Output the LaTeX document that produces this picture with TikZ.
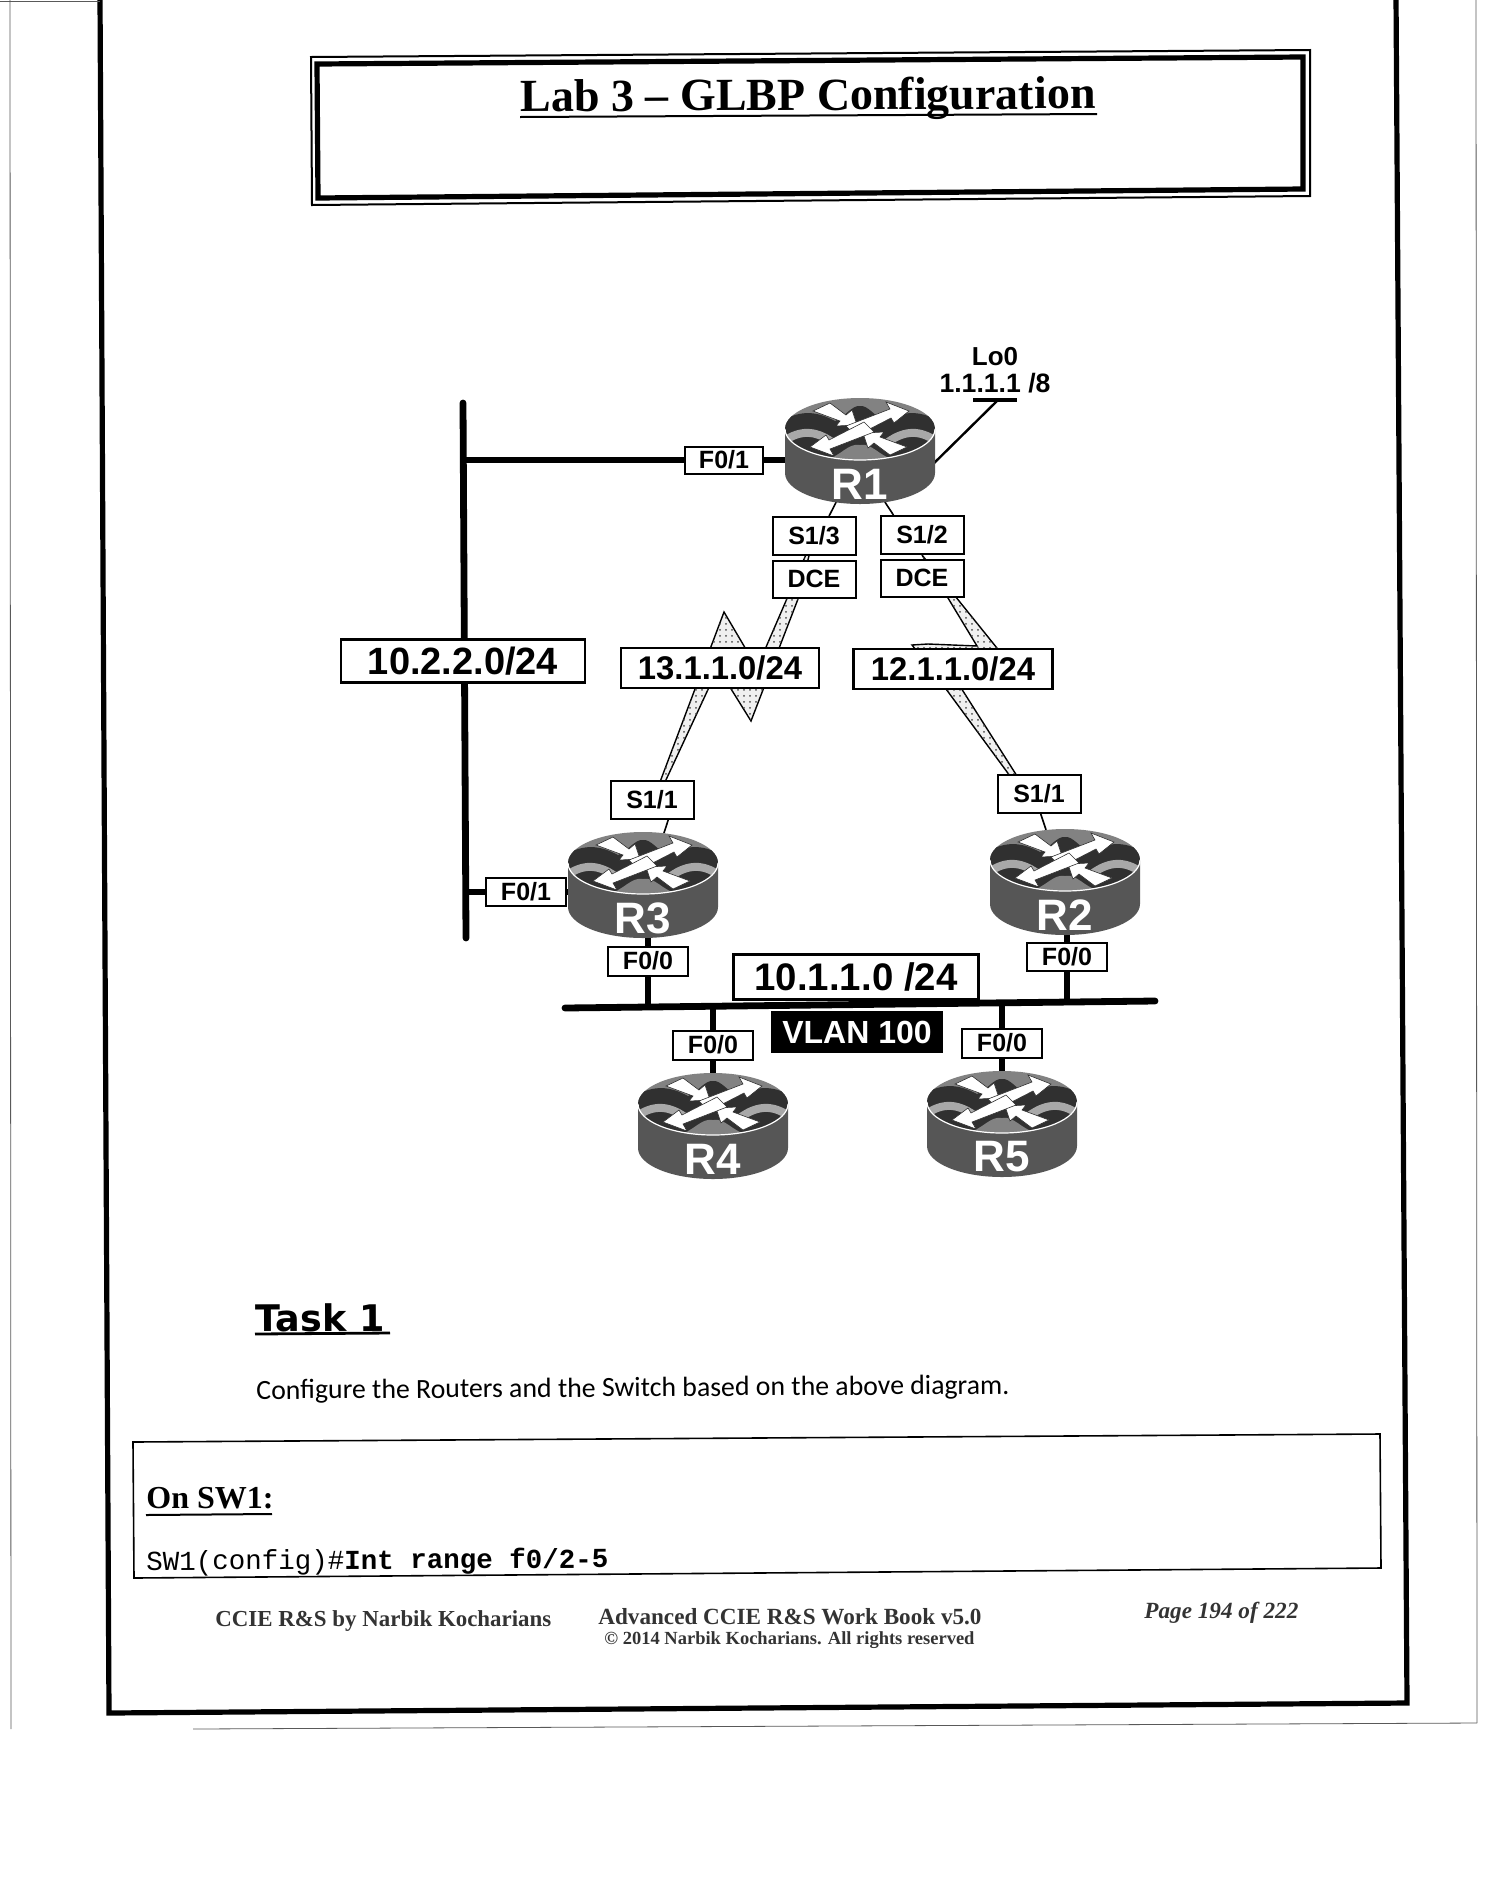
\documentclass[tikz,border=0pt]{standalone}
\usepackage{fontspec}
\setmainfont{Liberation Serif}
\setsansfont{Liberation Sans}
\setmonofont{Liberation Mono}
\newfontfamily\taskfont{DejaVu Sans}
\newfontfamily\bodyfont{Carlito}
\usetikzlibrary{positioning,shapes.geometric,backgrounds,patterns}
\definecolor{routerside}{HTML}{565656}
\definecolor{routertop}{HTML}{828282}
\definecolor{routerdark}{HTML}{303030}
\definecolor{routerlite}{HTML}{A8A8A8}
\tikzset{
    every node/.style={inner sep=0pt,font=\sffamily\bfseries},
    ifbox/.style={rectangle,draw=black,line width=1pt,fill=white,font=\sffamily\bfseries\fontsize{12.5}{14}\selectfont},
    netbox/.style={rectangle,draw=black,line width=1.1pt,fill=white},
    routerbody/.style={ellipse,minimum width=75pt,minimum height=53.5pt},
    routerlab/.style={text=white,font=\sffamily\bfseries\fontsize{22}{24}\selectfont},
    pageline/.style={line width=2.6pt,black},
    hairline/.style={line width=.4pt,black!65},
    eth/.style={line width=3.2pt,black},
    bus/.style={line width=3.4pt,black,line cap=round},
    wirethin/.style={line width=.8pt,black},
    bolt/.style={draw=black,line width=.7pt,line join=miter,fill=black!6,postaction={pattern=dots,pattern color=black!70}},
    movearrow/.style={fill=white,draw=routerdark,line width=.3pt},
    router/.pic={
        \fill[routerside] (-75,-22) -- (-75,22) arc[start angle=180,end angle=0,x radius=75,y radius=31] -- (75,-22) -- cycle;
        \begin{scope}[shift={(0,-22)}]
            \begin{scope}
                \clip (0,0) ellipse [x radius=75,y radius=31];
                \fill[routertop] (-75,-31) rectangle (75,31);
                \fill[routerdark] (-75,-10) .. controls (-55,-20) and (-40,-16) .. (-25,-8) .. controls (-15,-12) and (-8,-24) .. (0,-23) .. controls (8,-24) and (15,-12) .. (25,-8) .. controls (40,-16) and (55,-20) .. (75,-10) -- (75,31) -- (-75,31) -- cycle;
                \draw[routerlite,line width=4pt] (-76,12) .. controls (-60,1) and (-45,1) .. (-28,13);
                \draw[routerlite,line width=4pt] (76,12) .. controls (60,1) and (45,1) .. (28,13);
                \fill[routertop] (-34,31) .. controls (-18,26) and (-12,14) .. (0,16) .. controls (12,14) and (18,26) .. (34,31) -- cycle;
                \fill[routertop] (-75,18) .. controls (-60,20) and (-45,24) .. (-34,31) -- (-75,31) -- cycle;
                \fill[routertop] (75,18) .. controls (60,20) and (45,24) .. (34,31) -- (75,31) -- cycle;
            \end{scope}
            \draw[white,line width=.6pt] (-75,0) arc[start angle=180,end angle=0,x radius=75,y radius=31];
            \fill[movearrow] (-47,-18) -- (-30,-26) -- (-14,-14) -- (-8,-19) -- (-3,-4) -- (-24,-3) -- (-20,-8) -- cycle;
            \fill[movearrow] (47,18) -- (30,26) -- (14,14) -- (8,19) -- (3,4) -- (24,3) -- (20,8) -- cycle;
            \fill[movearrow] (-14,-3) -- (30,-20) -- (26,-27) -- (49,-18) -- (34,-6) -- (31,-11) -- (-4,7) -- cycle;
            \fill[movearrow] (14,3) -- (-30,20) -- (-26,27) -- (-50,18) -- (-34,6) -- (-31,11) -- (4,-7) -- cycle;
        \end{scope}
        \node[routerbody] (-body) at (0,0) {};
        \node[routerlab] (-lab) at (0,33) {#1};
    }
}
\begin{document}
\begin{tikzpicture}[x=0.5pt,y=-0.5pt]
\path[use as bounding box] (0,0) rectangle (1492,1896);
% page frame
\draw[pageline] (100,-4) -- (109,1713) -- (1407,1703) -- (1396,-4);
\draw[hairline] (10,0) -- (11,1729);
\draw[hairline] (1476,0) -- (1477,1723);
\draw[hairline] (193,1729) -- (1477,1723);
\draw[hairline] (0,1) -- (100,1);
% title
\draw[line width=1pt] (311,57) -- (1310,50) -- (1310,196) -- (312,205) -- cycle;
\draw[line width=2.6pt] (317,64) -- (1303,57) -- (1303,189) -- (318,198) -- cycle;
\node[font=\rmfamily\bfseries\fontsize{23}{26}\selectfont,rotate=.3] (title) at (808,99) {Lab 3 -- GLBP Configuration};
\draw[line width=1pt] (520,117) -- (1097,114);
% routers
\foreach \nm/\lab/\x/\y in {r1/R1/860/451,r2/R2/1065/882,r3/R3/643/885,r4/R4/713/1126,r5/R5/1002/1124}{
    \pic (\nm) at (\x,\y) {router=\lab};
}
% interfaces
\foreach \nm/\txt/\x/\y/\w/\h in {f01r1/F0\slash 1/724/460/39pt/13.5pt,f01r3/F0\slash 1/526/892/40pt/14pt,
    s13/S1\slash 3/814/536/41.5pt/19pt,dce13/DCE/814/579/41.5pt/18.5pt,s12/S1\slash 2/922/535/41.5pt/19pt,dce12/DCE/922/578/41.5pt/18.5pt,
    s11r3/S1\slash 1/652/800/41.5pt/19pt,s11r2/S1\slash 1/1039/794/41.5pt/19pt,
    f00r3/F0\slash 0/648/961/40pt/14.5pt,f00r2/F0\slash 0/1067/957/40pt/14pt,f00r4/F0\slash 0/713/1045/40pt/14.5pt,f00r5/F0\slash 0/1002/1043/40pt/14.5pt}{
    \node[ifbox,minimum width=\w,minimum height=\h] (\nm) at (\x,\y) {\txt};
}
% networks
\node[netbox,minimum width=122pt,minimum height=21.5pt,font=\sffamily\bfseries\fontsize{19}{21}\selectfont] (lan22) at (463,661) {10.2.2.0/24};
\node[netbox,minimum width=99pt,minimum height=20pt,font=\sffamily\bfseries\fontsize{16.4}{18}\selectfont] (net13) at (720,668) {13.1.1.0/24};
\node[netbox,minimum width=99.5pt,minimum height=20pt,font=\sffamily\bfseries\fontsize{16.4}{18}\selectfont] (net12) at (953,669) {12.1.1.0/24};
\node[netbox,minimum width=122.5pt,minimum height=22.5pt,font=\sffamily\bfseries\fontsize{19.2}{21}\selectfont] (lan11) at (856,977) {10.1.1.0 /24};
\node[rectangle,fill=black,text=white,minimum width=86pt,minimum height=21pt,font=\sffamily\bfseries\fontsize{16}{18}\selectfont] (vlan) at (857,1032) {VLAN 100};
\node[font=\sffamily\bfseries\fontsize{13}{15}\selectfont] (lo0) at (995,357) {Lo0};
\node[font=\sffamily\bfseries\fontsize{13.3}{15}\selectfont,below=3pt of lo0] (lo0ip) {1.1.1.1 /8};
% lines
\coordinate (busT) at (463,403);
\coordinate (busB) at (466,938);
\coordinate (lanL) at (565,1008);
\coordinate (lanR) at (1155,1001);
\coordinate (loL) at (973,400);
\coordinate (loR) at (1017,400);
\coordinate (loM) at (998,400);
\begin{pgfonlayer}{background}
    \draw[bus] (busT) -- (busB);
    \draw[bus] (lanL) -- (lanR);
    \draw[eth] (f01r1.center) -- (f01r1 -| busT);
    \draw[eth] (f01r1.center) -- (f01r1 -| r1-body);
    \draw[eth] (f01r3.center) -- (f01r3 -| busT);
    \draw[eth] (f01r3.center) -- (f01r3 -| r3-body);
    \draw[eth] (f00r3 |- r3-body) -- (f00r3 |- lanL);
    \draw[eth] (f00r2 |- r2-body) -- (f00r2 |- lanR);
    \draw[eth] (f00r4 |- r4-body) -- (f00r4 |- lanL);
    \draw[eth] (f00r5 |- r5-body) -- (f00r5 |- lanR);
    \draw[wirethin] (r1-body.245) -- (s13.53);
    \draw[wirethin] (r1-body.296) -- (s12.145);
    \draw[wirethin] (r3-body.68) -- (s11r3.-51);
    \draw[wirethin] (r2-body.110) -- (s11r2.-85);
    \draw[line width=1.2pt] (r1-body.-10) -- (loM);
    \draw[line width=1.6pt] (loL) -- (loR);
    \draw[bolt] (s13.center) -- (798,599) -- (751,721) -- (718,668) -- (665,782) -- (s11r3.center) -- (660,782) -- (724,612) -- (757,668) -- cycle;
    \draw[bolt] (s12.south) -- (977,646) -- (928,644) -- (912,645) -- (946,689) -- (1010,776) -- (s11r2.center) -- (1017,776) -- (942,658) -- (1005,658) -- cycle;
\end{pgfonlayer}
% text below
\node[font=\taskfont\bfseries\fontsize{18.3}{20}\selectfont,anchor=west,rotate=.2] (task) at (255,1318) {Task 1};
\draw[line width=1.4pt] (255,1334) -- (390,1333);
\node[font=\bodyfont\mdseries\fontsize{13.9}{16}\selectfont,anchor=west,rotate=.4] (cfg) at (256,1392) {Configure the Routers and the Switch based on the above diagram.};
\draw[line width=.8pt] (133,1442) -- (1380,1434) -- (1381,1568) -- (134,1578) -- cycle;
\node[font=\rmfamily\bfseries\fontsize{16}{18}\selectfont,anchor=west] (onsw) at (146,1498) {On SW1:};
\draw[line width=1pt] (146,1515) -- (272,1514);
\node[font=\ttfamily\mdseries\fontsize{13.75}{15}\selectfont,anchor=west,rotate=.3] (cmd) at (146,1563) {SW1(config)\#\textbf{Int range f0/2-5}};
\node[font=\rmfamily\bfseries\fontsize{11.45}{13}\selectfont,anchor=west,text=black!80] (foot1) at (215,1621) {CCIE R\&S by Narbik Kocharians};
\node[font=\rmfamily\bfseries\fontsize{11.57}{13}\selectfont,anchor=west,text=black!80] (foot2) at (598,1617) {Advanced CCIE R\&S Work Book v5.0};
\node[font=\rmfamily\bfseries\fontsize{9.25}{11}\selectfont,anchor=west,text=black!80] (foot3) at (604,1640) {© 2014 Narbik Kocharians. All rights reserved};
\node[font=\rmfamily\bfseries\itshape\fontsize{11.6}{13}\selectfont,anchor=west,text=black!80] (foot4) at (1144,1613) {Page 194 of 222};
\end{tikzpicture}
\end{document}
